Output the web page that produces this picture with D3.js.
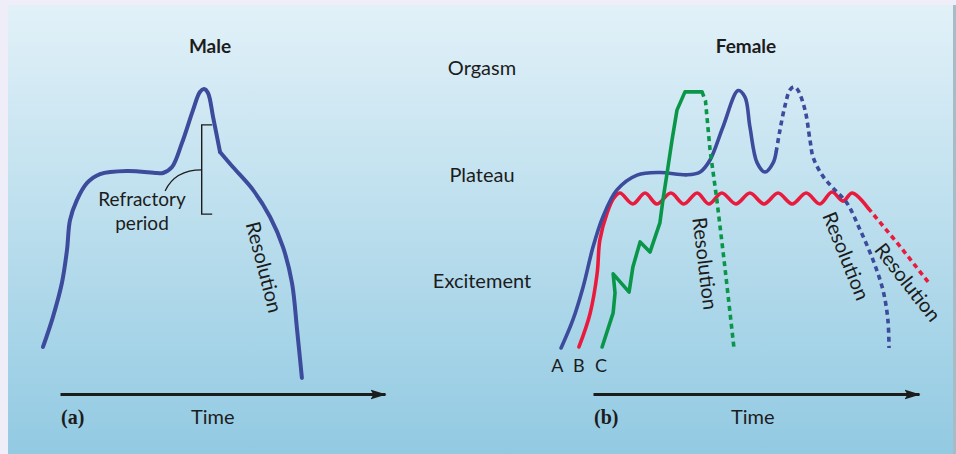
<!DOCTYPE html>
<html>
<head>
<meta charset="utf-8">
<script src="https://cdn.jsdelivr.net/npm/d3@7"></script>
<style>
  body { margin: 0; background: #efedf7; }
  svg { display: block; }
  text { font-family: Lato, "Open Sans", sans-serif; fill: #1c1c1c; }
</style>
</head>
<body>
<svg id="chart" width="956" height="454"></svg>
<script>
// arousal stage labels (level on the shared y scale)
const stageNames = ["Excitement", "Plateau", "Orgasm"];
const stageLevels = [23, 64, 105];

// male response: [time, arousal level]
const maleRise = [[1, 0.4], [4.3, 11.9], [7.3, 25], [9, 37.7], [10, 49.2], [12.3, 56.9], [15.7, 63.5], [20, 66.9], [29, 68.1], [39, 67.3], [41, 67.3], [44, 69.6], [47.3, 78.8], [51, 91.5], [53.3, 98.5], [54.7, 99.6], [56, 98.1], [57.7, 88.8], [60, 75.4]];
const maleResolution = [[60, 75.4], [64.3, 69.6], [71, 60.8], [76.7, 50.4], [81, 38.8], [84, 25], [85.7, 6.9], [87.3, -11.5]];

// female response patterns A, B, C
const femaleA = [[1.6, 0], [4.7, 10.8], [7.4, 23.5], [10, 38.8], [12.6, 50.4], [16.3, 60.8], [21.6, 66.5], [27.6, 67.5], [34.7, 66.6], [38.2, 67.7], [40.8, 72.3], [44.2, 85], [48.2, 99], [50, 96.5], [51.3, 85], [53.2, 71.2], [55.3, 67.7], [57.4, 71.2], [58.2, 75.4]];
const femaleAResolution = [[58.2, 75.4], [59.2, 83.8], [60.5, 93], [61.8, 99.2], [62.9, 100.4], [63.9, 99.2], [65.8, 91.5], [67.1, 80], [67.9, 73.5], [70.3, 66.5], [73.2, 61.5], [76.8, 55.8], [80.3, 45.4], [83.7, 33.8], [86.3, 22.3], [87.6, 10.8], [87.9, 0]];

const femaleB = [[6.3, 0.4], [9.2, 13.1], [11.1, 28.8], [11.8, 41.5], [13.7, 51.9], [15.5, 57.7], [17.1, 59.6],
  [20.5, 55.4], [23.7, 59.6], [26.8, 55.4], [30.5, 59.6], [33.9, 55.4], [37.4, 59.6], [40.5, 55.4], [43.9, 59.6], [47.6, 55.4],
  [51.3, 59.6], [55, 55.4], [58.7, 59.6], [62.4, 55.4], [66.1, 59.6], [69.7, 55.4], [72.9, 60], [75.8, 56.5], [78.2, 59.6], [82.4, 53.8]];
const femaleBResolution = [[82.4, 53.8], [90.3, 40], [98.2, 25.4]];

const femaleC = [[12.4, 0.4], [15.3, 13.5], [15.8, 21.2], [15.3, 28.5], [19.5, 21.5], [20.5, 31.2], [22.4, 40.8], [25, 36.9], [27.6, 48.1], [28.4, 56.9], [29.5, 67.3], [30.8, 80], [32.1, 91.5], [34.2, 98.5], [38.7, 98.5]];
const femaleCResolution = [[38.7, 98.5], [39.6, 95], [40.8, 76.2], [42.6, 56.9], [44.7, 31.2], [47.1, 0]];

const colors = { A: "#3c4b9b", B: "#ea1a3d", C: "#0a9648" };

let svg = d3.select("#chart");

// background panel
let defs = svg.append("defs");
let grad = defs.append("linearGradient").attr("id", "bg").attr("x1", 0).attr("y1", 0).attr("x2", 0).attr("y2", 1);
grad.append("stop").attr("offset", "0%").attr("stop-color", "#e2f1f8");
grad.append("stop").attr("offset", "100%").attr("stop-color", "#92cae2");

defs.append("marker")
  .attr("id", "arrow")
  .attr("viewBox", "0 -6 16 12")
  .attr("refX", 15)
  .attr("refY", 0)
  .attr("markerWidth", 16)
  .attr("markerHeight", 12)
  .attr("markerUnits", "userSpaceOnUse")
  .attr("orient", "auto")
  .append("path")
  .attr("d", "M0,-4.8L16,0L0,4.8L3,0Z")
  .attr("fill", "#1c1c1c");

svg.append("rect").attr("x", 8).attr("y", 5).attr("width", 945).attr("height", 449).attr("fill", "url(#bg)");
svg.append("rect").attr("x", 953).attr("y", 5).attr("width", 3).attr("height", 449).attr("fill", "#a8bcc7");

// scales
let y = d3.scaleLinear().domain([0, 100]).range([348, 88]);
let xMale = d3.scaleLinear().domain([0, 100]).range([40, 340]);
let xFemale = d3.scaleLinear().domain([0, 100]).range([555, 935]);

function lineFor(x, curve) {
  return d3.line()
    .x(d => x(d[0]))
    .y(d => y(d[1]))
    .curve(curve);
}

let smoothMale = lineFor(xMale, d3.curveCatmullRom.alpha(0.5));
let smoothFemale = lineFor(xFemale, d3.curveCatmullRom.alpha(0.5));
let straightFemale = lineFor(xFemale, d3.curveLinear);

function draw(data, gen, color, width, dashed) {
  svg.append("path")
    .datum(data)
    .attr("d", gen)
    .attr("fill", "none")
    .attr("stroke", color)
    .attr("stroke-width", width)
    .attr("stroke-linejoin", "round")
    .attr("stroke-linecap", dashed ? "butt" : "round")
    .attr("stroke-dasharray", dashed ? "5,4" : null);
}

// ---- (a) male ----
draw(maleRise, smoothMale, colors.A, 4, false);
draw(maleResolution, smoothMale, colors.A, 4, false);

// refractory period bracket
let bx = xMale(53.9);
svg.append("path")
  .attr("d", "M" + (bx + 10.5) + "," + y(85.8) + "H" + bx + "V" + y(51.5) + "H" + (bx + 10.5))
  .attr("fill", "none")
  .attr("stroke", "#1c1c1c")
  .attr("stroke-width", 1.4);
svg.append("path")
  .attr("d", "M" + bx + "," + y(68.5) + "Q" + xMale(45) + "," + y(68.5) + " " + xMale(41.7) + "," + y(60.4))
  .attr("fill", "none")
  .attr("stroke", "#1c1c1c")
  .attr("stroke-width", 1.2);

svg.append("text").attr("x", xMale(34)).attr("y", y(54.5)).attr("text-anchor", "middle")
  .attr("font-size", 19).text("Refractory");
svg.append("text").attr("x", xMale(34)).attr("y", y(45.3)).attr("text-anchor", "middle")
  .attr("font-size", 19).text("period");

// ---- (b) female ----
draw(femaleB, smoothFemale, colors.B, 3.6, false);
draw(femaleBResolution, straightFemale, colors.B, 3.6, true);
draw(femaleA, smoothFemale, colors.A, 3.6, false);
draw(femaleAResolution, smoothFemale, colors.A, 3.6, true);
draw(femaleC, straightFemale, colors.C, 3.6, false);
draw(femaleCResolution, straightFemale, colors.C, 3.6, true);

// curve names at their starting points
let starts = [["A", femaleA[0][0] - 1], ["B", femaleB[0][0]], ["C", femaleC[0][0] - 0.3]];
svg.selectAll("text.start")
  .data(starts)
  .enter()
  .append("text")
  .attr("class", "start")
  .attr("x", d => xFemale(d[1]))
  .attr("y", 372)
  .attr("text-anchor", "middle")
  .attr("font-size", 18)
  .text(d => d[0]);

// "Resolution" labels: [x scale, time, level, angle]
let resolutionLabels = [
  [xMale, 75, 31.2, 75.5],
  [xFemale, 39.7, 32.5, 83],
  [xFemale, 76.8, 35.5, 68],
  [xFemale, 93, 25.5, 52]
];
resolutionLabels.forEach(function (d) {
  let px = d[0](d[1]);
  let py = y(d[2]);
  svg.append("text")
    .attr("transform", "translate(" + px + "," + py + ") rotate(" + d[3] + ")")
    .attr("text-anchor", "middle")
    .attr("dominant-baseline", "central")
    .attr("font-size", 20)
    .text("Resolution");
});

// stage labels in the middle
svg.selectAll("text.stage")
  .data(stageNames)
  .enter()
  .append("text")
  .attr("class", "stage")
  .attr("x", 482)
  .attr("y", (d, i) => y(stageLevels[i]))
  .attr("text-anchor", "middle")
  .attr("font-size", 20)
  .text(d => d);

// titles
svg.append("text").attr("x", 210).attr("y", 53).attr("text-anchor", "middle")
  .attr("font-size", 19).attr("font-weight", "bold").text("Male");
svg.append("text").attr("x", 746).attr("y", 53).attr("text-anchor", "middle")
  .attr("font-size", 19).attr("font-weight", "bold").text("Female");

// time axes
let panels = [
  { range: [60, 385], tag: "(a)", labelAt: 0.47 },
  { range: [593, 919], tag: "(b)", labelAt: 0.49 }
];
panels.forEach(function (p) {
  let t = d3.scaleLinear().domain([0, 1]).range(p.range);
  let g = svg.append("g")
    .attr("transform", "translate(0,394)")
    .call(d3.axisBottom(t).tickValues([]).tickSizeOuter(0));
  g.select(".domain")
    .attr("stroke", "#1c1c1c")
    .attr("stroke-width", 3)
    .attr("marker-end", "url(#arrow)");

  svg.append("text").attr("x", t(p.labelAt)).attr("y", 424).attr("text-anchor", "middle")
    .attr("font-size", 20).text("Time");
  svg.append("text").attr("x", p.range[0] + 1).attr("y", 424)
    .style("font-family", "'Liberation Serif', 'DejaVu Serif', serif")
    .attr("font-weight", "bold")
    .attr("font-size", 20)
    .text(p.tag);
});
</script>
</body>
</html>
